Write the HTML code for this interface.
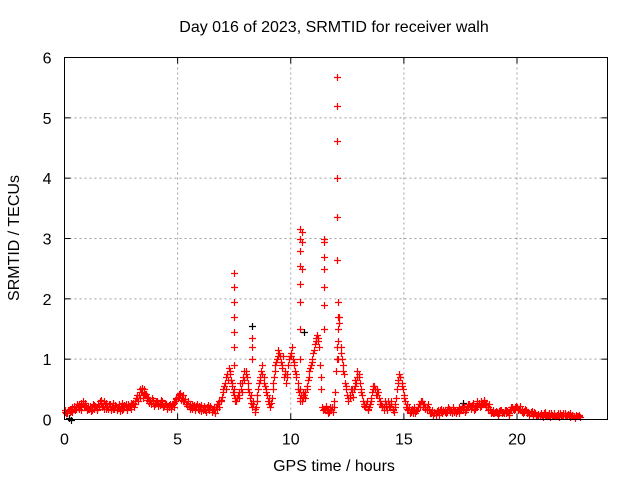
<!DOCTYPE html>
<html><head><meta charset="utf-8"><style>
body{margin:0;background:#fff}
svg{display:block;font-family:"Liberation Sans",sans-serif;font-size:16px}
</style></head><body>
<svg id="chart" width="640" height="480">
<text x="334" y="32" text-anchor="middle">Day 016 of 2023, SRMTID for receiver walh</text>
<text x="334" y="471" text-anchor="middle">GPS time / hours</text>
<text transform="translate(19,238) rotate(-90)" text-anchor="middle">SRMTID / TECUs</text>
<g id="grid"></g>
<g id="ticks"></g>
<g id="marks"></g>
<rect x="64.5" y="57.5" width="543" height="362" fill="none" stroke="#000"/>
</svg>
<script>
const xTicks=[0,5,10,15,20];
const yTicks=[0,1,2,3,4,5,6];
const baseStart=0, baseStep=0.1;
const baseValues=[
0.12,0.13,0.15,0.14,0.18,0.2,0.22,0.2,0.25,0.28,
0.15,0.18,0.2,0.17,0.2,0.25,0.28,0.22,0.25,0.2,
0.22,0.2,0.18,0.15,0.2,0.22,0.18,0.2,0.25,0.22,
0.25,0.3,0.35,0.4,0.45,0.5,0.42,0.35,0.3,0.28,
0.25,0.3,0.28,0.25,0.22,0.25,0.2,0.18,0.25,0.3,
0.38,0.4,0.35,0.3,0.25,0.22,0.2,0.22,0.2,0.18,
0.2,0.15,0.18,0.2,0.15,0.12,0.18,0.2,0.25,0.3,
0.45,0.6,0.75,0.8,0.55,0.4,0.3,0.35,0.5,0.7,
0.8,0.6,0.35,0.2,0.12,0.3,0.6,0.8,0.7,0.5,
0.3,0.2,0.5,0.8,1.0,1.1,0.9,0.7,0.6,0.9,
1.1,1.0,0.8,0.6,0.35,0.3,0.4,0.5,0.7,0.9,
1.1,1.3,1.35,0.9,0.2,0.15,0.18,0.12,0.15,0.2,
0.8,1.5,1.2,0.9,0.6,0.4,0.35,0.45,0.5,0.6,
0.75,0.5,0.3,0.2,0.15,0.25,0.45,0.55,0.5,0.35,
0.25,0.15,0.2,0.3,0.2,0.15,0.2,0.5,0.75,0.6,
0.4,0.2,0.15,0.12,0.15,0.1,0.15,0.2,0.3,0.25,
0.2,0.15,0.1,0.08,0.1,0.12,0.15,0.1,0.12,0.15,
0.18,0.15,0.12,0.1,0.15,0.18,0.15,0.12,0.2,0.25,
0.2,0.15,0.2,0.25,0.3,0.25,0.28,0.2,0.15,0.12,
0.1,0.12,0.1,0.15,0.12,0.1,0.12,0.15,0.2,0.18,
0.2,0.18,0.15,0.12,0.15,0.12,0.1,0.08,0.1,0.05,
0.06,0.08,0.1,0.05,0.08,0.1,0.06,0.05,0.08,0.1,
0.08,0.1,0.05,0.08,0.06,0.05,0.08,0.05,0.04];
const base2Start=0.05;
const baseValues2=[
0.1,0.16,0.12,0.2,0.15,0.25,0.18,0.27,0.22,0.2,
0.2,0.14,0.26,0.22,0.15,0.3,0.2,0.3,0.18,0.26,
0.16,0.27,0.22,0.2,0.14,0.28,0.24,0.16,0.2,0.28,
0.2,0.36,0.3,0.5,0.35,0.42,0.32,0.28,0.35,0.22,
0.3,0.22,0.33,0.2,0.28,0.18,0.26,0.24,0.2,0.36,
0.42,0.32,0.4,0.26,0.3,0.18,0.26,0.16,0.25,0.22,
0.14,0.22,0.12,0.24,0.2,0.18,0.1,0.26,0.2,0.38,
0.55,0.5,0.85,0.65,0.45,0.3,0.4,0.6,0.45,0.8,
0.7,0.45,0.28,0.3,0.2,0.5,0.7,0.9,0.55,0.4,
0.25,0.35,0.7,0.95,1.15,0.95,1.05,0.8,0.75,1.05,
1.2,0.9,0.7,0.45,0.4,0.45,0.35,0.65,0.85,1.0,
1.25,1.4,1.2,0.5,0.18,0.22,0.1,0.2,0.12,0.45,
1.2,1.7,1.0,0.75,0.5,0.3,0.5,0.38,0.65,0.8,
0.6,0.4,0.22,0.3,0.2,0.35,0.55,0.4,0.45,0.25,
0.2,0.3,0.15,0.25,0.3,0.12,0.35,0.65,0.7,0.5,
0.3,0.25,0.1,0.18,0.2,0.15,0.25,0.3,0.2,0.18,
0.25,0.1,0.15,0.12,0.14,0.08,0.18,0.15,0.1,0.2,
0.12,0.2,0.16,0.14,0.1,0.22,0.2,0.18,0.25,0.18,
0.28,0.22,0.3,0.2,0.26,0.32,0.2,0.25,0.1,0.16,
0.14,0.08,0.15,0.1,0.16,0.14,0.08,0.2,0.15,0.22,
0.15,0.22,0.1,0.17,0.1,0.08,0.14,0.12,0.06,0.09,
0.1,0.04,0.12,0.08,0.04,0.07,0.1,0.08,0.04,0.07,
0.11,0.06,0.09,0.04,0.08,0.03,0.06,0.07];
const base3Start=0.025;
const baseValues3=[
0.15,0.1,0.18,0.12,0.22,0.17,0.26,0.16,0.3,0.24,
0.18,0.22,0.15,0.24,0.18,0.22,0.32,0.18,0.28,0.17,
0.26,0.17,0.24,0.18,0.25,0.16,0.22,0.25,0.2,0.18,
0.28,0.26,0.4,0.36,0.52,0.44,0.38,0.3,0.25,0.32,
0.28,0.26,0.24,0.3,0.25,0.2,0.24,0.22,0.28,0.34,
0.35,0.44,0.3,0.34,0.22,0.26,0.17,0.24,0.22,0.15,
0.24,0.18,0.15,0.17,0.22,0.15,0.2,0.17,0.3,0.33,
0.5,0.7,0.65,0.75,0.6,0.35,0.35,0.45,0.6,0.65,
0.75,0.5,0.4,0.25,0.18,0.4,0.65,0.75,0.6,0.45,
0.35,0.28,0.6,0.9,1.05,1.05,0.85,0.75,0.7,1.0,
1.05,0.95,0.75,0.5,0.3,0.38,0.45,0.55,0.8,0.95,
1.15,1.35,1.3,0.7,0.15,0.18,0.15,0.16,0.2,0.3,
1.0,1.6,1.1,0.8,0.55,0.35,0.4,0.5,0.55,0.7,
0.7,0.45,0.25,0.25,0.18,0.3,0.5,0.5,0.4,0.3,
0.22,0.2,0.25,0.22,0.25,0.18,0.25,0.6,0.7,0.55,
0.35,0.18,0.2,0.15,0.1,0.14,0.2,0.25,0.26,0.2,
0.15,0.18,0.12,0.1,0.08,0.15,0.12,0.14,0.16,0.12,
0.15,0.1,0.15,0.12,0.2,0.15,0.18,0.15,0.22,0.22,
0.24,0.18,0.24,0.28,0.22,0.3,0.24,0.16,0.18,0.1,
0.12,0.1,0.14,0.12,0.1,0.15,0.1,0.18,0.17,0.2,
0.18,0.15,0.12,0.14,0.12,0.1,0.12,0.06,0.08,0.07,
0.08,0.06,0.08,0.07,0.1,0.06,0.08,0.06,0.1,0.08,
0.06,0.08,0.07,0.1,0.05,0.06,0.05,0.06];
const spikeTimes=[7.5,7.5,7.5,7.5,7.5,7.5,7.5,7.5,8.3,8.3,8.3,10.4,10.4,10.4,10.4,10.4,10.4,10.4,10.4,10.4,10.5,10.5,10.5,11.45,11.45,11.45,11.45,11.45,11.45,11.45,12.05,12.05,12.05,12.05,12.05,12.05,12.1,12.1,12.1,12.1];
const spikeValues=[0.5,0.9,1.2,1.45,1.7,1.95,2.2,2.43,1.0,1.2,1.35,0.5,1.0,1.5,1.95,2.25,2.55,2.8,3.0,3.15,2.5,2.95,3.1,1.5,1.9,2.2,2.5,2.7,2.95,3.0,2.65,3.35,4.0,4.62,5.2,5.68,1.0,1.3,1.7,1.95];
const blackTimes=[0.2,0.3,8.3,10.6,17.6];
const blackValues=[0.02,0.0,1.55,1.45,0.28];

const X0=64.5,X1=607.5,Y0=419.5,Y1=57.5;
const xs=t=>X0+t/24*(X1-X0);
const ys=v=>Y0-v/6*(Y0-Y1);
const NS='http://www.w3.org/2000/svg';
function mk(tag,attrs,parent){const e=document.createElementNS(NS,tag);for(const k in attrs)e.setAttribute(k,attrs[k]);parent.appendChild(e);return e;}
const grid=document.getElementById('grid'),ticks=document.getElementById('ticks'),marks=document.getElementById('marks');
xTicks.forEach(t=>{
  const x=xs(t);
  if(t>0){const g=mk('line',{x1:x,x2:x,y1:Y1,y2:Y0,stroke:'#a0a0a0','stroke-dasharray':'2,3'},grid);
  
  }
  mk('line',{x1:x,x2:x,y1:Y0,y2:Y0-6,stroke:'#000'},ticks);
  mk('line',{x1:x,x2:x,y1:Y1,y2:Y1+6,stroke:'#000'},ticks);
  const l=mk('text',{x:x,y:Y0+25,'text-anchor':'middle'},ticks);l.textContent=t;
  
  
});
yTicks.forEach(v=>{
  const y=ys(v);
  if(v>0&&v<6){const g=mk('line',{x1:X0,x2:X1,y1:y,y2:y,stroke:'#a0a0a0','stroke-dasharray':'2,3'},grid);
  
  }
  mk('line',{x1:X0,x2:X0+6,y1:y,y2:y,stroke:'#000'},ticks);
  mk('line',{x1:X1,x2:X1-6,y1:y,y2:y,stroke:'#000'},ticks);
  const l=mk('text',{x:X0-13,y:y+6,'text-anchor':'end'},ticks);l.textContent=v;
  
  
});
function plus(t,v,color,name){
  const x=Math.round(xs(t))+0.5,y=Math.round(ys(v))+0.5;
  const p=mk('path',{d:`M${x-3.5},${y}H${x+3.5}M${x},${y-3.5}V${y+3.5}`,stroke:color,'stroke-width':1.2,fill:'none'},marks);
  
  
}
blackTimes.forEach((t,i)=>plus(t,blackValues[i],'#000','black-point'));
baseValues.forEach((v,i)=>plus(baseStart+i*baseStep,v,'#ff0000','red-point'));
baseValues2.forEach((v,i)=>plus(base2Start+i*baseStep,v,'#ff0000','red-point'));
baseValues3.forEach((v,i)=>plus(base3Start+i*baseStep,v,'#ff0000','red-point'));
spikeTimes.forEach((t,i)=>plus(t,spikeValues[i],'#ff0000','red-spike-point'));
</script>
</body></html>
